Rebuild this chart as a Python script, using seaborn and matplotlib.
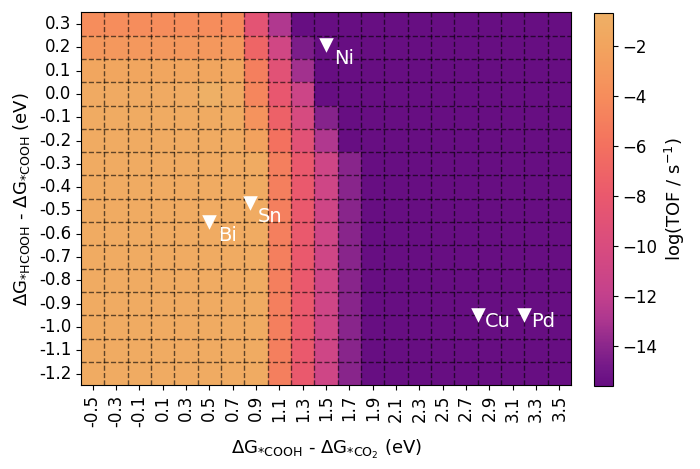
import numpy as np
import pandas as pd
import matplotlib
matplotlib.use("Agg")
import matplotlib.pyplot as plt
from matplotlib.colors import LinearSegmentedColormap
import seaborn as sns

# grid axes (eV)
x_vals = [-0.5, -0.3, -0.1, 0.1, 0.3, 0.5, 0.7, 0.9, 1.1, 1.3, 1.5,
          1.7, 1.9, 2.1, 2.3, 2.5, 2.7, 2.9, 3.1, 3.3, 3.5]
y_vals = [0.3, 0.2, 0.1, 0.0, -0.1, -0.2, -0.3, -0.4,
          -0.5, -0.6, -0.7, -0.8, -0.9, -1.0, -1.1, -1.2]

# log(TOF) read row by row, top (0.3) to bottom (-1.2)
row_p03 = [-4.0, -4.0, -4.0, -4.0, -4.0, -4.0, -4.2, -8.8, -12.8, -15.6, -15.6,
           -15.6, -15.6, -15.6, -15.6, -15.6, -15.6, -15.6, -15.6, -15.6, -15.6]
row_p02 = [-3.0, -3.0, -3.0, -3.0, -3.0, -3.0, -3.0, -7.0, -10.8, -14.6, -15.6,
           -15.6, -15.6, -15.6, -15.6, -15.6, -15.6, -15.6, -15.6, -15.6, -15.6]
row_p01 = [-1.8, -1.8, -1.8, -1.8, -1.8, -1.8, -1.8, -5.0, -9.0, -13.3, -15.6,
           -15.6, -15.6, -15.6, -15.6, -15.6, -15.6, -15.6, -15.6, -15.6, -15.6]
row_000 = [-1.4, -1.4, -1.4, -1.4, -1.2, -0.66, -1.4, -4.5, -8.2, -11.2, -15.6,
           -15.6, -15.6, -15.6, -15.6, -15.6, -15.6, -15.6, -15.6, -15.6, -15.6]
row_m01 = [-1.3, -1.3, -1.3, -1.3, -1.3, -1.3, -1.3, -3.5, -7.3, -10.2, -14.2,
           -15.6, -15.6, -15.6, -15.6, -15.6, -15.6, -15.6, -15.6, -15.6, -15.6]
row_m02 = [-1.3, -1.3, -1.3, -1.3, -1.3, -1.3, -1.3, -2.2, -6.0, -9.0, -12.8,
           -15.6, -15.6, -15.6, -15.6, -15.6, -15.6, -15.6, -15.6, -15.6, -15.6]
row_low = [-1.3, -1.3, -1.3, -1.3, -1.3, -1.3, -1.3, -1.3, -5.0, -8.0, -11.0,
           -14.1, -15.6, -15.6, -15.6, -15.6, -15.6, -15.6, -15.6, -15.6, -15.6]
tof = [row_p03, row_p02, row_p01, row_000, row_m01, row_m02,
       row_low, row_low, row_low, row_low, row_low,
       row_low, row_low, row_low, row_low, row_low]

metals = ["Bi", "Sn", "Ni", "Cu", "Pd"]
metal_x = [0.5, 0.85, 1.5, 2.8, 3.2]
metal_y = [-0.55, -0.47, 0.21, -0.95, -0.95]

df = pd.DataFrame(tof,
                  index=[f"{v:.1f}" for v in y_vals],
                  columns=[f"{v:.1f}" for v in x_vals])

cmap = LinearSegmentedColormap.from_list("tof", [
    (0.0, "#670e82"), (0.045, "#731888"), (0.112, "#8e288c"),
    (0.178, "#ae378f"), (0.245, "#c4418c"), (0.378, "#d94c7e"),
    (0.511, "#ea596d"), (0.644, "#f3715f"), (0.778, "#f68d5c"),
    (0.911, "#f2a45e"), (1.0, "#eeb066")])

fig = plt.figure(figsize=(7, 4.69), dpi=100)
ax = fig.add_axes([81 / 700, 83.7 / 469, 490 / 700, 373 / 469])
cax = fig.add_axes([594 / 700, 83.3 / 469, 18.7 / 700, 373 / 469])

sns.heatmap(df, ax=ax, cbar_ax=cax, cmap=cmap)

for s in ax.spines.values():
    s.set_visible(True)
    s.set_linewidth(0.8)
cb = ax.collections[0].colorbar
cb.outline.set_linewidth(0.8)
cb.outline.set_edgecolor("black")
cb.ax.tick_params(labelsize=12)
cb.set_label("log(TOF / s$^{-1}$)", fontsize=13)

ax.set_xticks(np.arange(1, len(x_vals)), minor=True)
ax.set_yticks(np.arange(1, len(y_vals)), minor=True)
ax.grid(which="minor", color="black", linestyle="--", linewidth=1.0, alpha=0.6)
ax.tick_params(which="minor", length=0)
ax.tick_params(axis="x", labelrotation=90, labelsize=12)
ax.tick_params(axis="y", labelrotation=0, labelsize=12)

ax.set_xlabel(r"ΔG$_{*\mathrm{COOH}}$ - ΔG$_{*\mathrm{CO_2}}$ (eV)",
              fontsize=13, labelpad=8)
ax.set_ylabel(r"ΔG$_{*\mathrm{HCOOH}}$ - ΔG$_{*\mathrm{COOH}}$ (eV)",
              fontsize=13, labelpad=5)


def to_idx(x, y):
    return (x - x_vals[0]) / 0.2 + 0.5, (y_vals[0] - y) / 0.1 + 0.5


offsets = {"Bi": (0.075, 0.08), "Sn": (0.067, 0.08), "Ni": (0.068, 0.08),
           "Cu": (0.066, 0.05), "Pd": (0.055, 0.05)}
for name, mx, my in zip(metals, metal_x, metal_y):
    px, py = to_idx(mx, my)
    ax.scatter(px, py, marker="v", s=110, color="white", zorder=5, linewidths=0)
    dx, dy = offsets[name]
    tx, ty = to_idx(mx + dx, my - dy)
    ax.text(tx, ty, name, color="white", fontsize=14, va="baseline", zorder=6)

fig.savefig("out.png", dpi=100)
